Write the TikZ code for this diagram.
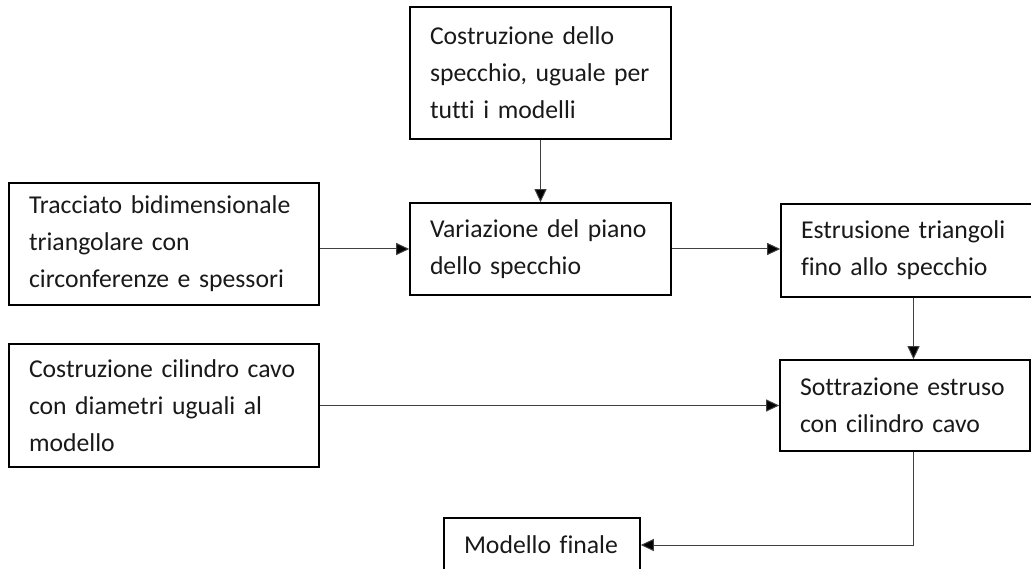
\documentclass[tikz,border=0pt]{standalone}
\usepackage{fontspec}
\setmainfont{Carlito}[Ligatures={NoCommon}]
\usetikzlibrary{arrows.meta}
% one line of box text that never wraps
\newcommand{\boxline}[1]{\mbox{#1}}
\begin{document}
\begin{tikzpicture}[x=1pt,y=-1pt,
  stepbox/.style={draw=black, line width=1.6pt, align=left, inner xsep=20pt,
    inner ysep=0pt, font=\fontsize{25.7}{37}\selectfont, text=black!90,
    anchor=center},
  link/.style={draw=black!75, line width=1pt,
    -{Triangle[length=13pt,width=12pt,fill=black]}}]
  \useasboundingbox (0,0) rectangle (1031,569);
  \begin{scope}
  \clip (0,0) rectangle (1031,569);
  \node[stepbox, text width=221pt, minimum height=132pt] (mirror) at (540.5,73)
    {\boxline{Costruzione dello}\\\boxline{specchio, uguale per}\\\boxline{tutti i modelli}};
  \node[stepbox, text width=221pt, minimum height=92pt] (plane) at (540.5,249)
    {\boxline{Variazione del piano}\\\boxline{dello specchio}};
  \node[stepbox, text width=270pt, minimum height=122pt] (sketch) at (164,244)
    {\boxline{Tracciato bidimensionale}\\\boxline{triangolare con}\\\boxline{circonferenze e spessori}};
  \node[stepbox, text width=213pt, minimum height=93pt] (extrude) at (907.5,250.5)
    {\boxline{Estrusione triangoli}\\\boxline{fino allo specchio}};
  \node[stepbox, text width=210pt, minimum height=91pt] (subtract) at (905,405.5)
    {\boxline{Sottrazione estruso}\\\boxline{con cilindro cavo}};
  \node[stepbox, text width=270pt, minimum height=123pt] (cylinder) at (164,405.5)
    {\boxline{Costruzione cilindro cavo}\\\boxline{con diametri uguali al}\\\boxline{modello}};
  \node[stepbox, text width=156pt, minimum height=54pt] (final) at (542,545)
    {\boxline{Modello finale}};
  \end{scope}
  \draw[link] (mirror.south) -- (plane.north);
  \draw[link] (sketch.east |- plane.west) -- (plane.west);
  \draw[link] (plane.east) -- (plane.east -| extrude.west);
  \draw[link] ([xshift=6pt]extrude.south) -- ([xshift=6pt]extrude.south |- subtract.north);
  \draw[link] (cylinder.east) -- (subtract.west);
  \draw[link] ([xshift=8pt]subtract.south) |- (final.east);
\end{tikzpicture}
\end{document}
